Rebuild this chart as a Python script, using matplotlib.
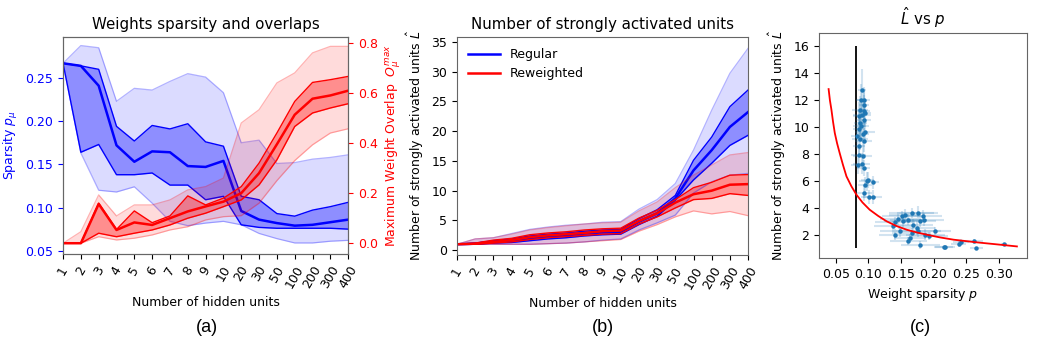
#!/usr/bin/env python3
# -*- coding: utf-8 -*-

# Import modules
import numpy as np
import matplotlib
matplotlib.use("Agg")
import matplotlib.pyplot as plt


#################### DATA ####################
hidden_units = ["1", "2", "3", "4", "5", "6", "7", "8", "9", "10",
                "20", "30", "50", "100", "200", "300", "400"]

# (a) weight sparsity (left axis)
spars_med = [0.267, 0.264, 0.241, 0.172, 0.153, 0.165, 0.164, 0.148, 0.147,
             0.154, 0.096, 0.086, 0.082, 0.079, 0.080, 0.083, 0.086]
spars_q_hi = [0.267, 0.264, 0.260, 0.194, 0.177, 0.195, 0.191, 0.197, 0.176,
              0.171, 0.113, 0.109, 0.093, 0.090, 0.097, 0.101, 0.106]
spars_q_lo = [0.267, 0.164, 0.173, 0.138, 0.138, 0.140, 0.126, 0.126, 0.109,
              0.113, 0.080, 0.077, 0.076, 0.076, 0.076, 0.076, 0.075]
spars_max = [0.267, 0.2875, 0.285, 0.223, 0.238, 0.236, 0.246, 0.255, 0.251,
             0.233, 0.175, 0.178, 0.151, 0.152, 0.156, 0.158, 0.161]
spars_min = [0.267, 0.163, 0.120, 0.118, 0.124, 0.105, 0.084, 0.079, 0.082,
             0.084, 0.080, 0.070, 0.064, 0.059, 0.059, 0.061, 0.062]

# (a) maximum weight overlap (right axis)
ovl_med = [0.0, 0.0, 0.157, 0.053, 0.083, 0.073, 0.100, 0.127, 0.147,
           0.166, 0.200, 0.280, 0.395, 0.513, 0.577, 0.590, 0.609]
ovl_q_hi = [0.0, 0.0, 0.160, 0.055, 0.129, 0.082, 0.109, 0.189, 0.153,
            0.180, 0.226, 0.320, 0.440, 0.566, 0.642, 0.653, 0.666]
ovl_q_lo = [0.0, 0.0, 0.040, 0.026, 0.040, 0.053, 0.073, 0.100, 0.120,
            0.146, 0.173, 0.233, 0.333, 0.466, 0.520, 0.540, 0.557]
ovl_max = [0.0, 0.046, 0.193, 0.109, 0.153, 0.153, 0.173, 0.213, 0.226,
           0.260, 0.480, 0.533, 0.640, 0.680, 0.760, 0.786, 0.786]
ovl_min = [0.0, 0.0, 0.026, 0.013, 0.020, 0.033, 0.053, 0.066, 0.093,
           0.106, 0.110, 0.160, 0.250, 0.330, 0.393, 0.440, 0.457]

# (b) strongly activated units, regular
reg_med = [1.0, 1.1, 1.4, 1.6, 2.0, 2.3, 2.5, 2.8, 3.0, 3.1,
           4.8, 6.2, 8.7, 13.4, 16.8, 20.7, 23.2]
reg_q_hi = [1.0, 1.2, 1.6, 1.9, 2.4, 2.7, 2.9, 3.2, 3.4, 3.5,
            5.3, 6.8, 9.2, 15.1, 19.0, 24.1, 26.9]
reg_q_lo = [1.0, 1.0, 1.2, 1.3, 1.6, 1.9, 2.1, 2.4, 2.6, 2.7,
            4.3, 5.7, 8.4, 11.8, 14.6, 17.6, 19.3]
reg_max = [1.0, 1.9, 2.1, 2.8, 3.5, 3.9, 4.2, 4.4, 4.7, 4.8,
           6.9, 8.5, 11.2, 16.8, 23.5, 29.7, 33.9]
reg_min = [1.0, 1.0, 1.0, 1.0, 1.0, 1.1, 1.2, 1.4, 1.7, 1.9,
           3.4, 4.6, 5.9, 9.6, 11.5, 12.6, 12.9]

# (b) strongly activated units, reweighted
rew_med = [1.0, 1.1, 1.4, 1.7, 2.2, 2.5, 2.7, 2.9, 3.2, 3.3,
           4.9, 6.2, 8.0, 9.4, 10.0, 11.0, 11.1]
rew_q_hi = [1.0, 1.2, 1.7, 2.0, 2.6, 2.9, 3.1, 3.4, 3.6, 3.7,
            5.4, 6.7, 8.5, 10.5, 11.4, 12.6, 12.7]
rew_q_lo = [1.0, 1.0, 1.2, 1.4, 1.8, 2.1, 2.3, 2.5, 2.7, 2.8,
            4.4, 5.6, 7.1, 8.5, 8.7, 9.5, 9.2]
rew_max = [1.0, 1.9, 2.1, 2.7, 3.4, 3.8, 4.1, 4.4, 4.6, 4.7,
           6.6, 8.1, 10.5, 12.6, 14.3, 16.0, 16.4]
rew_min = [1.0, 1.0, 1.0, 1.0, 1.0, 1.1, 1.2, 1.4, 1.6, 1.8,
           3.2, 4.3, 5.6, 6.6, 6.1, 6.5, 5.8]

# (c) L-hat vs p scatter with errors
sc_p = [0.0906, 0.0885, 0.0931, 0.0936, 0.0870, 0.0926, 0.0850, 0.0900,
        0.0947, 0.0875, 0.0926, 0.0854, 0.0890, 0.0952, 0.0829, 0.0870,
        0.0911, 0.0926, 0.0859, 0.0849, 0.0911, 0.0834, 0.0895, 0.0926,
        0.0972, 0.0988, 0.0952, 0.0936, 0.1003, 0.1065, 0.1065,
        0.1409, 0.1459, 0.1510, 0.1563, 0.1665, 0.1768, 0.1845, 0.1855,
        0.1794, 0.1691, 0.1742, 0.1768, 0.1665, 0.1640, 0.1614, 0.1794,
        0.1871, 0.1937, 0.2024, 0.1383, 0.1409, 0.1486, 0.1537, 0.1614,
        0.2155, 0.2180, 0.2386, 0.2422, 0.2615, 0.2655, 0.3080]
sc_L = [12.73, 12.04, 11.99, 11.66, 11.29, 11.22, 10.85, 10.92,
        11.04, 10.30, 10.55, 9.86, 10.05, 9.61, 9.31, 9.11,
        9.51, 8.94, 8.57, 7.95, 7.87, 7.20, 7.28, 6.96,
        5.97, 6.09, 5.72, 5.10, 4.80, 4.80, 5.89,
        2.94, 3.19, 3.36, 3.44, 3.61, 3.61, 3.42, 3.12,
        2.99, 2.75, 2.50, 2.25, 2.13, 1.75, 1.50, 1.26,
        2.00, 1.88, 2.25, 2.62, 2.00, 2.25, 2.99, 3.12,
        1.06, 1.06, 1.31, 1.46, 1.50, 1.00, 1.31]
sc_perr = [0.006, 0.008, 0.010, 0.008, 0.012, 0.010, 0.008, 0.014,
           0.010, 0.010, 0.012, 0.009, 0.012, 0.015, 0.010, 0.012,
           0.010, 0.013, 0.009, 0.012, 0.014, 0.010, 0.013, 0.010,
           0.012, 0.010, 0.011, 0.012, 0.012, 0.015, 0.010,
           0.030, 0.028, 0.030, 0.025, 0.035, 0.030, 0.028, 0.030,
           0.025, 0.030, 0.028, 0.035, 0.030, 0.025, 0.028, 0.030,
           0.030, 0.028, 0.025, 0.030, 0.025, 0.030, 0.030, 0.028,
           0.015, 0.015, 0.012, 0.012, 0.015, 0.010, 0.005]
sc_Lerr = [1.6, 1.2, 1.0, 1.0, 1.0, 1.2, 1.0, 0.9,
           1.0, 1.0, 0.8, 0.9, 0.9, 0.8, 0.9, 0.8,
           0.9, 0.8, 0.8, 0.8, 0.7, 0.7, 0.8, 0.6,
           0.7, 0.6, 0.6, 0.6, 0.5, 0.5, 0.5,
           0.4, 0.5, 0.4, 0.5, 0.4, 0.5, 0.4, 0.5,
           0.4, 0.4, 0.5, 0.4, 0.4, 0.3, 0.3, 0.3,
           0.4, 0.3, 0.3, 0.4, 0.4, 0.4, 0.4, 0.4,
           0.1, 0.1, 0.2, 0.2, 0.2, 0.1, 0.1]

# (c) fitted curve
fit_p = [0.039, 0.041, 0.0433, 0.0458, 0.0485, 0.052, 0.056, 0.061, 0.0664,
         0.074, 0.0818, 0.091, 0.102, 0.115, 0.128, 0.143, 0.159, 0.175,
         0.190, 0.210, 0.231, 0.267, 0.300, 0.328]
fit_L = [12.83, 12.0, 11.3, 10.4, 9.56, 8.8, 8.07, 7.2, 6.34,
         5.6, 4.97, 4.4, 3.86, 3.4, 3.0, 2.65, 2.37, 2.16,
         2.0, 1.8, 1.63, 1.43, 1.27, 1.13]

p_threshold = 0.0818
threshold_span = [1.0, 16.0]


#################### PLOTTING ####################
def plot_bands(ax, x, med, q_lo, q_hi, vmin, vmax, color, label=None):
    # Outer (min/max) band
    ax.fill_between(x, vmin, vmax, color=color, alpha=0.14, lw=0)
    ax.plot(x, vmin, color=color, alpha=0.3, lw=0.9)
    ax.plot(x, vmax, color=color, alpha=0.3, lw=0.9)
    # Inner band
    ax.fill_between(x, q_lo, q_hi, color=color, alpha=0.35, lw=0)
    ax.plot(x, q_lo, color=color, lw=1.0)
    ax.plot(x, q_hi, color=color, lw=1.0)
    # Median
    ax.plot(x, med, color=color, lw=1.8, label=label)


def format_units_axis(ax, x):
    ax.set_xticks(x)
    ax.set_xticklabels(hidden_units, rotation=60)
    ax.set_xlim(x[0], x[-1])
    ax.set_xlabel("Number of hidden units")


def main():
    plt.rcParams["font.size"] = 9
    plt.rcParams["axes.edgecolor"] = "#666666"

    fig = plt.figure(figsize=(10.56, 3.56), dpi=100)
    x = np.arange(len(hidden_units))

    # (a) sparsity and overlaps
    ax1 = fig.add_axes([0.0597, 0.2865, 0.2700, 0.6100])
    plot_bands(ax1, x, spars_med, spars_q_lo, spars_q_hi, spars_min, spars_max, "blue")
    ax1.set_ylim(0.0462, 0.2976)
    ax1.set_yticks([0.05, 0.10, 0.15, 0.20, 0.25])
    ax1.set_ylabel(r"Sparsity $p_\mu$", color="blue")
    ax1.tick_params(axis="y", colors="blue")
    format_units_axis(ax1, x)
    ax1.set_title("Weights sparsity and overlaps")

    ax1r = ax1.twinx()
    plot_bands(ax1r, x, ovl_med, ovl_q_lo, ovl_q_hi, ovl_min, ovl_max, "red")
    ax1r.set_ylim(-0.043, 0.824)
    ax1r.set_yticks([0.0, 0.2, 0.4, 0.6, 0.8])
    ax1r.set_ylabel(r"Maximum Weight Overlap  $O_\mu^{max}$", color="red")
    ax1r.tick_params(axis="y", colors="red")
    ax1r.set_xlim(x[0], x[-1])

    # (b) strongly activated units
    ax2 = fig.add_axes([0.4328, 0.2837, 0.2756, 0.6124])
    plot_bands(ax2, x, reg_med, reg_q_lo, reg_q_hi, reg_min, reg_max, "blue", "Regular")
    plot_bands(ax2, x, rew_med, rew_q_lo, rew_q_hi, rew_min, rew_max, "red", "Reweighted")
    ax2.set_ylim(-0.8, 35.8)
    ax2.set_yticks(np.arange(0, 36, 5))
    ax2.set_ylabel(r"Number of strongly activated units $\hat{L}$")
    format_units_axis(ax2, x)
    ax2.set_title("Number of strongly activated units")
    ax2.legend(loc="upper left", frameon=False, handlelength=2.5)

    # (c) L-hat vs p
    ax3 = fig.add_axes([0.7756, 0.2753, 0.1970, 0.6320])
    eb = ax3.errorbar(sc_p, sc_L, xerr=sc_perr, yerr=sc_Lerr, fmt="o", ms=2.2,
                      color="#1f77b4", ecolor="#1f77b4", elinewidth=1.5,
                      capsize=0, zorder=3)
    for bar in eb[2]:
        bar.set_alpha(0.2)
    ax3.plot(fit_p, fit_L, color="red", lw=1.3, zorder=4)
    ax3.vlines(p_threshold, threshold_span[0], threshold_span[1], color="black", lw=1.3)
    ax3.set_xlim(0.0243, 0.3436)
    ax3.set_ylim(0.27, 17.0)
    ax3.set_xticks([0.05, 0.10, 0.15, 0.20, 0.25, 0.30])
    ax3.set_yticks([2, 4, 6, 8, 10, 12, 14, 16])
    ax3.set_xlabel(r"Weight sparsity $p$")
    ax3.set_ylabel(r"Number of strongly activated units $\hat{L}$")
    ax3.set_title(r"$\hat{L}$ vs $p$")

    # Panel letters
    for xpos, letter in zip([0.196, 0.571, 0.872], ["(a)", "(b)", "(c)"]):
        fig.text(xpos, 0.08, letter, ha="center", va="center", fontsize=13,
                 family="Liberation Sans")

    fig.savefig("out.png", dpi=100)


if __name__ == "__main__":
    main()


# end of file
